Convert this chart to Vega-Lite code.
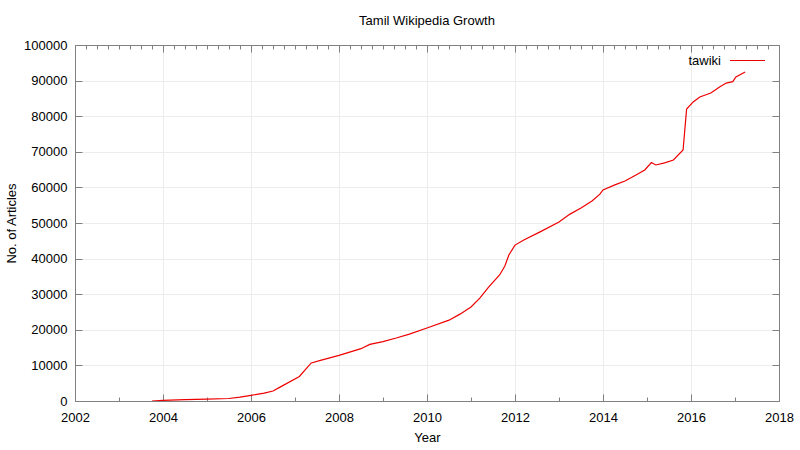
{
  "$schema": "https://vega.github.io/schema/vega-lite/v6.json",
  "width": 704,
  "height": 356,
  "autosize": "none",
  "padding": {"left": 75, "top": 45, "right": 21, "bottom": 49},
  "background": "white",
  "title": {"text": "Tamil Wikipedia Growth", "font": "Liberation Sans", "fontSize": 13, "fontWeight": "normal", "color": "#000", "offset": 11},
  "config": {
    "font": "Liberation Sans",
    "view": {"stroke": null},
    "axis": {"labelFont": "Liberation Sans", "labelFontSize": 13, "labelColor": "#000", "titleFont": "Liberation Sans", "titleFontSize": 13, "titleFontWeight": "normal", "titleColor": "#000", "domainColor": "#808080", "tickColor": "#808080", "gridColor": "#ececec", "gridWidth": 1}
  },
  "data": {"values": [
    {"year": 2003.75, "articles": 0, "series": "tawiki"},
    {"year": 2004.0, "articles": 200, "series": "tawiki"},
    {"year": 2004.5, "articles": 400, "series": "tawiki"},
    {"year": 2005.0, "articles": 500, "series": "tawiki"},
    {"year": 2005.5, "articles": 700, "series": "tawiki"},
    {"year": 2005.75, "articles": 1100, "series": "tawiki"},
    {"year": 2006.0, "articles": 1600, "series": "tawiki"},
    {"year": 2006.3, "articles": 2200, "series": "tawiki"},
    {"year": 2006.5, "articles": 2800, "series": "tawiki"},
    {"year": 2006.66, "articles": 3900, "series": "tawiki"},
    {"year": 2007.1, "articles": 6900, "series": "tawiki"},
    {"year": 2007.25, "articles": 9000, "series": "tawiki"},
    {"year": 2007.37, "articles": 10700, "series": "tawiki"},
    {"year": 2007.6, "articles": 11500, "series": "tawiki"},
    {"year": 2008.0, "articles": 12800, "series": "tawiki"},
    {"year": 2008.5, "articles": 14700, "series": "tawiki"},
    {"year": 2008.7, "articles": 15900, "series": "tawiki"},
    {"year": 2009.0, "articles": 16700, "series": "tawiki"},
    {"year": 2009.3, "articles": 17700, "series": "tawiki"},
    {"year": 2009.6, "articles": 18800, "series": "tawiki"},
    {"year": 2010.0, "articles": 20500, "series": "tawiki"},
    {"year": 2010.5, "articles": 22700, "series": "tawiki"},
    {"year": 2010.75, "articles": 24400, "series": "tawiki"},
    {"year": 2011.0, "articles": 26400, "series": "tawiki"},
    {"year": 2011.2, "articles": 28900, "series": "tawiki"},
    {"year": 2011.4, "articles": 32000, "series": "tawiki"},
    {"year": 2011.65, "articles": 35400, "series": "tawiki"},
    {"year": 2011.77, "articles": 37900, "series": "tawiki"},
    {"year": 2011.86, "articles": 41000, "series": "tawiki"},
    {"year": 2012.0, "articles": 43800, "series": "tawiki"},
    {"year": 2012.2, "articles": 45200, "series": "tawiki"},
    {"year": 2012.57, "articles": 47500, "series": "tawiki"},
    {"year": 2013.0, "articles": 50300, "series": "tawiki"},
    {"year": 2013.25, "articles": 52500, "series": "tawiki"},
    {"year": 2013.5, "articles": 54200, "series": "tawiki"},
    {"year": 2013.75, "articles": 56200, "series": "tawiki"},
    {"year": 2013.93, "articles": 58100, "series": "tawiki"},
    {"year": 2014.0, "articles": 59300, "series": "tawiki"},
    {"year": 2014.27, "articles": 60700, "series": "tawiki"},
    {"year": 2014.5, "articles": 61800, "series": "tawiki"},
    {"year": 2014.75, "articles": 63500, "series": "tawiki"},
    {"year": 2014.95, "articles": 64900, "series": "tawiki"},
    {"year": 2015.1, "articles": 67000, "series": "tawiki"},
    {"year": 2015.2, "articles": 66300, "series": "tawiki"},
    {"year": 2015.4, "articles": 66900, "series": "tawiki"},
    {"year": 2015.6, "articles": 67700, "series": "tawiki"},
    {"year": 2015.82, "articles": 70500, "series": "tawiki"},
    {"year": 2015.9, "articles": 82000, "series": "tawiki"},
    {"year": 2016.05, "articles": 84000, "series": "tawiki"},
    {"year": 2016.2, "articles": 85400, "series": "tawiki"},
    {"year": 2016.45, "articles": 86500, "series": "tawiki"},
    {"year": 2016.65, "articles": 88200, "series": "tawiki"},
    {"year": 2016.8, "articles": 89300, "series": "tawiki"},
    {"year": 2016.95, "articles": 89700, "series": "tawiki"},
    {"year": 2017.02, "articles": 91000, "series": "tawiki"},
    {"year": 2017.23, "articles": 92400, "series": "tawiki"}
  ]},
  "layer": [
    {
      "mark": {"type": "line", "strokeWidth": 1.2, "clip": true},
      "encoding": {
        "x": {"field": "year", "type": "quantitative", "scale": {"domain": [2002, 2018], "nice": false, "zero": false},
          "axis": {"title": "Year", "titlePadding": 4, "values": [2002,2002.25,2002.5,2002.75,2003,2003.25,2003.5,2003.75,2004,2004.25,2004.5,2004.75,2005,2005.25,2005.5,2005.75,2006,2006.25,2006.5,2006.75,2007,2007.25,2007.5,2007.75,2008,2008.25,2008.5,2008.75,2009,2009.25,2009.5,2009.75,2010,2010.25,2010.5,2010.75,2011,2011.25,2011.5,2011.75,2012,2012.25,2012.5,2012.75,2013,2013.25,2013.5,2013.75,2014,2014.25,2014.5,2014.75,2015,2015.25,2015.5,2015.75,2016,2016.25,2016.5,2016.75,2017,2017.25,2017.5,2017.75,2018],
            "format": "d", "labelExpr": "datum.value % 2 == 0 ? datum.label : ''", "labelOverlap": false, "labelFlush": false, "labelPadding": 17,
            "tickSize": {"condition": {"test": "datum.value % 2 == 0", "value": -7}, "value": -4},
            "gridOpacity": {"condition": {"test": "datum.value % 2 == 0", "value": 1}, "value": 0}}},
        "y": {"field": "articles", "type": "quantitative", "scale": {"domain": [0, 100000], "nice": false},
          "axis": {"title": "No. of Articles", "titlePadding": 5, "values": [0,10000,20000,30000,40000,50000,60000,70000,80000,90000,100000], "format": "d", "tickSize": -7, "labelPadding": 15}},
        "color": {"field": "series", "type": "nominal", "scale": {"range": ["#ee0000"]},
          "legend": {"title": null, "orient": "none", "legendX": 654, "legendY": -3, "symbolType": "stroke", "symbolSize": 1225, "symbolStrokeWidth": 1.2, "labelFont": "Liberation Sans", "labelFontSize": 13, "labelColor": "#000", "labelAlign": "right", "labelOffset": -45}}
      }
    },
    {
      "mark": {"type": "line", "opacity": 0},
      "encoding": {
        "x": {"field": "year", "type": "quantitative", "scale": {"domain": [2002, 2018], "nice": false, "zero": false},
          "axis": {"orient": "top", "title": null, "labels": false, "grid": false, "values": [2002,2002.25,2002.5,2002.75,2003,2003.25,2003.5,2003.75,2004,2004.25,2004.5,2004.75,2005,2005.25,2005.5,2005.75,2006,2006.25,2006.5,2006.75,2007,2007.25,2007.5,2007.75,2008,2008.25,2008.5,2008.75,2009,2009.25,2009.5,2009.75,2010,2010.25,2010.5,2010.75,2011,2011.25,2011.5,2011.75,2012,2012.25,2012.5,2012.75,2013,2013.25,2013.5,2013.75,2014,2014.25,2014.5,2014.75,2015,2015.25,2015.5,2015.75,2016,2016.25,2016.5,2016.75,2017,2017.25,2017.5,2017.75,2018],
            "tickSize": {"condition": {"test": "datum.value % 2 == 0", "value": -7}, "value": -4}}},
        "y": {"field": "articles", "type": "quantitative", "scale": {"domain": [0, 100000], "nice": false},
          "axis": {"orient": "right", "title": null, "labels": false, "grid": false, "values": [0,10000,20000,30000,40000,50000,60000,70000,80000,90000,100000], "tickSize": -7}}
      }
    }
  ],
  "resolve": {"axis": {"x": "independent", "y": "independent"}}
}
